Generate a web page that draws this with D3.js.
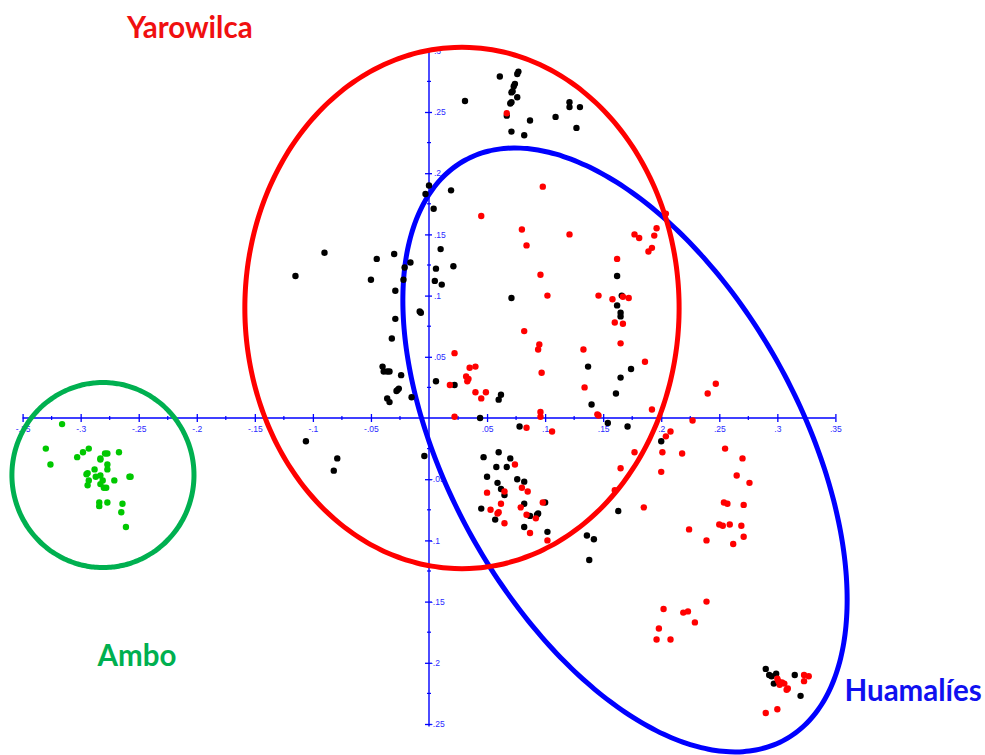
<!DOCTYPE html>
<html>
<head>
<meta charset="utf-8">
<script src="https://cdn.jsdelivr.net/npm/d3@7"></script>
<style>
  body { margin: 0; background: #fff; }
  svg { display: block; }
  .tick text { font-family: "Liberation Sans", Arial, sans-serif; }
</style>
</head>
<body>
<svg id="chart" width="985" height="755"></svg>
<script>
// Axis ticks (labelled majors; minors fall halfway between)
const xMajorTicks = [-0.35, -0.3, -0.25, -0.2, -0.15, -0.1, -0.05, 0.05, 0.1, 0.15, 0.2, 0.25, 0.3, 0.35];
const yMajorTicks = [-0.25, -0.2, -0.15, -0.1, -0.05, 0.05, 0.1, 0.15, 0.2, 0.25, 0.3];

// Sample scores on the first two axes
const blackSamples = [
  [0.061,0.279],[0.076,0.281],[0.077,0.283],[0.074,0.273],[0.073,0.271],[0.071,0.266],[0.072,0.267],
  [0.076,0.262],[0.071,0.258],[0.070,0.257],[0.031,0.259],[0.067,0.247],[0.087,0.243],[0.071,0.234],
  [0.082,0.231],[0.109,0.246],[0.121,0.258],[0.121,0.254],[0.130,0.254],[0.127,0.237],
  [0.000,0.190],[-0.003,0.183],[0.004,0.171],[0.019,0.186],[-0.090,0.135],[-0.115,0.116],
  [-0.045,0.130],[-0.030,0.134],[-0.050,0.113],[-0.016,0.127],[-0.021,0.123],[-0.022,0.113],
  [-0.029,0.104],[0.010,0.138],[0.006,0.122],[0.021,0.124],[0.005,0.112],[0.011,0.109],
  [-0.008,0.087],[-0.007,0.086],[-0.029,0.081],[-0.032,0.065],[-0.040,0.042],[-0.039,0.038],
  [-0.036,0.038],[-0.034,0.038],[-0.024,0.035],[-0.026,0.024],[-0.027,0.023],[-0.028,0.022],
  [-0.036,0.016],[-0.034,0.013],[-0.015,0.017],[0.006,0.030],[0.022,0.027],
  [-0.106,-0.019],[-0.079,-0.033],[-0.082,-0.043],[-0.004,-0.031],
  [0.071,0.098],[0.062,0.019],[0.060,0.015],[0.044,0.000],[0.137,0.042],[0.140,0.011],
  [0.161,0.020],[0.165,0.033],[0.174,0.040],[0.162,0.116],[0.166,0.100],[0.162,0.092],
  [0.165,0.086],[0.165,0.083],[0.154,-0.004],[0.171,-0.007],[0.200,-0.019],[0.163,-0.076],
  [0.136,-0.096],[0.142,-0.099],[0.138,-0.116],[0.078,-0.007],
  [0.047,-0.032],[0.060,-0.028],[0.070,-0.033],[0.058,-0.040],[0.067,-0.040],[0.050,-0.048],
  [0.059,-0.053],[0.062,-0.058],[0.065,-0.063],[0.076,-0.050],[0.082,-0.052],[0.082,-0.070],
  [0.045,-0.074],[0.057,-0.083],[0.087,-0.080],[0.094,-0.078],[0.093,-0.079],[0.100,-0.069],
  [0.082,-0.089],[0.102,-0.093],
  [0.290,-0.205],[0.293,-0.210],[0.295,-0.211],[0.299,-0.209],[0.297,-0.217],[0.315,-0.210],
  [0.320,-0.227]
];

const redSamples = [
  [0.067,0.249],[0.098,0.189],[0.045,0.165],[0.080,0.154],[0.084,0.141],[0.121,0.150],
  [0.096,0.117],[0.102,0.100],[0.082,0.071],[0.095,0.060],[0.094,0.056],[0.097,0.037],
  [0.022,0.053],[0.035,0.041],[0.040,0.042],[0.032,0.034],[0.034,0.032],[0.033,0.030],
  [0.018,0.027],[0.040,0.021],[0.049,0.021],[0.045,0.016],[0.022,0.001],[0.096,0.005],
  [0.096,0.001],[0.133,0.056],[0.134,0.025],[0.145,0.003],[0.146,0.002],[0.186,0.046],
  [0.192,0.007],[0.162,0.130],[0.146,0.100],[0.158,0.097],[0.167,0.099],[0.172,0.098],
  [0.160,0.078],[0.167,0.077],[0.165,0.061],[0.177,0.150],[0.181,0.147],[0.196,0.155],
  [0.194,0.149],[0.192,0.139],[0.189,0.136],[0.204,0.167],
  [0.240,0.020],[0.247,0.028],[0.227,-0.002],[0.204,-0.015],[0.208,-0.011],[0.177,-0.028],
  [0.201,-0.028],[0.218,-0.029],[0.165,-0.041],[0.200,-0.044],[0.255,-0.025],[0.270,-0.033],
  [0.265,-0.047],[0.276,-0.053],[0.254,-0.069],[0.257,-0.070],[0.271,-0.071],[0.185,-0.073],
  [0.250,-0.087],[0.253,-0.088],[0.259,-0.087],[0.269,-0.088],[0.224,-0.091],[0.271,-0.097],
  [0.239,-0.100],[0.262,-0.103],[0.160,-0.059],[0.084,-0.008],[0.106,-0.011],
  [0.239,-0.150],[0.202,-0.156],[0.219,-0.159],[0.223,-0.158],[0.229,-0.167],[0.198,-0.172],
  [0.196,-0.181],[0.208,-0.181],
  [0.074,-0.038],[0.065,-0.060],[0.050,-0.061],[0.080,-0.057],[0.085,-0.060],[0.079,-0.073],
  [0.062,-0.070],[0.053,-0.075],[0.059,-0.078],[0.060,-0.077],[0.065,-0.086],[0.084,-0.079],
  [0.092,-0.082],[0.098,-0.069],[0.087,-0.094],[0.102,-0.100],
  [0.300,-0.213],[0.301,-0.215],[0.304,-0.216],[0.302,-0.218],[0.306,-0.217],[0.308,-0.222],
  [0.309,-0.221],[0.323,-0.210],[0.327,-0.211],[0.323,-0.215],[0.290,-0.241],[0.300,-0.238]
];

const greenSamples = [
  [-0.316,-0.005],[-0.330,-0.025],[-0.326,-0.038],[-0.303,-0.032],[-0.298,-0.028],[-0.293,-0.025],
  [-0.283,-0.034],[-0.283,-0.033],[-0.279,-0.029],[-0.277,-0.029],[-0.267,-0.028],[-0.277,-0.038],
  [-0.277,-0.042],[-0.288,-0.042],[-0.294,-0.045],[-0.295,-0.046],[-0.287,-0.048],[-0.283,-0.047],
  [-0.281,-0.051],[-0.293,-0.051],[-0.294,-0.055],[-0.283,-0.054],[-0.280,-0.057],[-0.278,-0.057],
  [-0.271,-0.051],[-0.258,-0.048],[-0.257,-0.048],[-0.284,-0.069],[-0.284,-0.072],[-0.277,-0.069],
  [-0.264,-0.070],[-0.265,-0.077],[-0.261,-0.089]
];

// Group ellipses in data units: centre, semi-axes, rotation (degrees)
const groupNames   = ["Huamalíes", "Yarowilca", "Ambo"];
const groupCenters = [[0.1688, -0.0261], [0.0284, 0.0899], [-0.2808, -0.0466]];
const groupAxes    = [[0.274, 0.1496], [0.187, 0.213], [0.0784, 0.0756]];
const groupAngles  = [121.3, 0, 0];

const svg = d3.select("#chart");
const x = d3.scaleLinear().domain([-0.35, 0.35]).range([22.6, 835.4]);
const y = d3.scaleLinear().domain([-0.25, 0.3]).range([724, 50.8]);

const axisBlue = "#0000ff";
const labelBlue = "#2a2aff";
const fmt = d => (+d.toFixed(2)).toString().replace(/^(-?)0\./, "$1.");

// Minor ticks halfway between the labelled ones
const xMinor = d3.range(-0.325, 0.35, 0.05).map(v => +v.toFixed(3));
const yMinor = d3.range(-0.225, 0.3, 0.05).map(v => +v.toFixed(3));

// ---- x axis ----
const gx = svg.append("g").attr("transform", `translate(0,${y(0)})`);
gx.call(d3.axisBottom(x).tickValues(xMajorTicks).tickSizeInner(4).tickSizeOuter(0).tickPadding(4).tickFormat(fmt));
gx.select(".domain").attr("stroke", axisBlue).attr("stroke-width", 1.4).attr("d", `M${x(-0.35)},0H${x(0.35)}`);
gx.selectAll(".tick line").attr("stroke", axisBlue).attr("stroke-width", 1.3).attr("y1", -4).attr("y2", 4);
gx.selectAll(".tick text").attr("fill", labelBlue).attr("font-size", 8.5);
gx.selectAll(".minor").data(xMinor).join("line")
  .attr("x1", d => x(d)).attr("x2", d => x(d)).attr("y1", -2).attr("y2", 2)
  .attr("stroke", axisBlue).attr("stroke-width", 1.2);

// ---- y axis ----
const gy = svg.append("g").attr("transform", `translate(${x(0)},0)`);
gy.call(d3.axisRight(y).tickValues(yMajorTicks).tickSizeInner(3).tickSizeOuter(0).tickPadding(2).tickFormat(fmt));
gy.select(".domain").attr("stroke", axisBlue).attr("stroke-width", 1.4).attr("d", `M0,${y(0.302)}V${y(-0.252)}`);
gy.selectAll(".tick line").attr("stroke", axisBlue).attr("stroke-width", 1.3).attr("x1", -4).attr("x2", 3);
gy.selectAll(".tick text").attr("fill", labelBlue).attr("font-size", 8.5)
  .attr("x", d => d < 0 ? 1 : 5);
gy.selectAll(".minor").data(yMinor).join("line")
  .attr("y1", d => y(d)).attr("y2", d => y(d)).attr("x1", -2).attr("x2", 2)
  .attr("stroke", axisBlue).attr("stroke-width", 1.2);

// ---- group ellipses ----
const ellipseColors = ["#0000ff", "#ff0000", "#00b050"];
function ellipsePoints(c, ax, angDeg) {
  const th = angDeg * Math.PI / 180;
  return d3.range(0, 360, 2).map(deg => {
    const t = deg * Math.PI / 180;
    const dx = ax[0] * Math.cos(t), dy = ax[1] * Math.sin(t);
    return [c[0] + dx * Math.cos(th) - dy * Math.sin(th), c[1] + dx * Math.sin(th) + dy * Math.cos(th)];
  });
}
const ellLine = d3.line().x(d => x(d[0])).y(d => y(d[1])).curve(d3.curveCardinalClosed);
svg.append("g").selectAll("path").data(groupNames).join("path")
  .attr("d", (d, i) => ellLine(ellipsePoints(groupCenters[i], groupAxes[i], groupAngles[i])))
  .attr("fill", "none")
  .attr("stroke", (d, i) => ellipseColors[i])
  .attr("stroke-width", 5);

// ---- samples ----
const pts = svg.append("g");
pts.selectAll(".g").data(greenSamples).join("circle").attr("class", "g")
  .attr("cx", d => x(d[0])).attr("cy", d => y(d[1])).attr("r", 3.2).attr("fill", "#00c800");
pts.selectAll(".k").data(blackSamples).join("circle").attr("class", "k")
  .attr("cx", d => x(d[0])).attr("cy", d => y(d[1])).attr("r", 3.2).attr("fill", "#000");
pts.selectAll(".r").data(redSamples).join("circle").attr("class", "r")
  .attr("cx", d => x(d[0])).attr("cy", d => y(d[1])).attr("r", 3.2).attr("fill", "#ff0000");

// ---- group names ----
const labelColors = ["#1010f0", "#f01010", "#00b050"];
const labelAnchors = [[0.417, -0.222], [-0.206, 0.320], [-0.2515, -0.193]];
svg.append("g").selectAll("text").data(groupNames).join("text")
  .attr("x", (d, i) => x(labelAnchors[i][0]))
  .attr("y", (d, i) => y(labelAnchors[i][1]))
  .attr("text-anchor", "middle")
  .attr("dominant-baseline", "central")
  .attr("font-family", "Lato, 'Open Sans', sans-serif")
  .attr("font-weight", 700)
  .attr("font-size", 29.5)
  .attr("fill", (d, i) => labelColors[i])
  .text(d => d);
</script>
</body>
</html>
